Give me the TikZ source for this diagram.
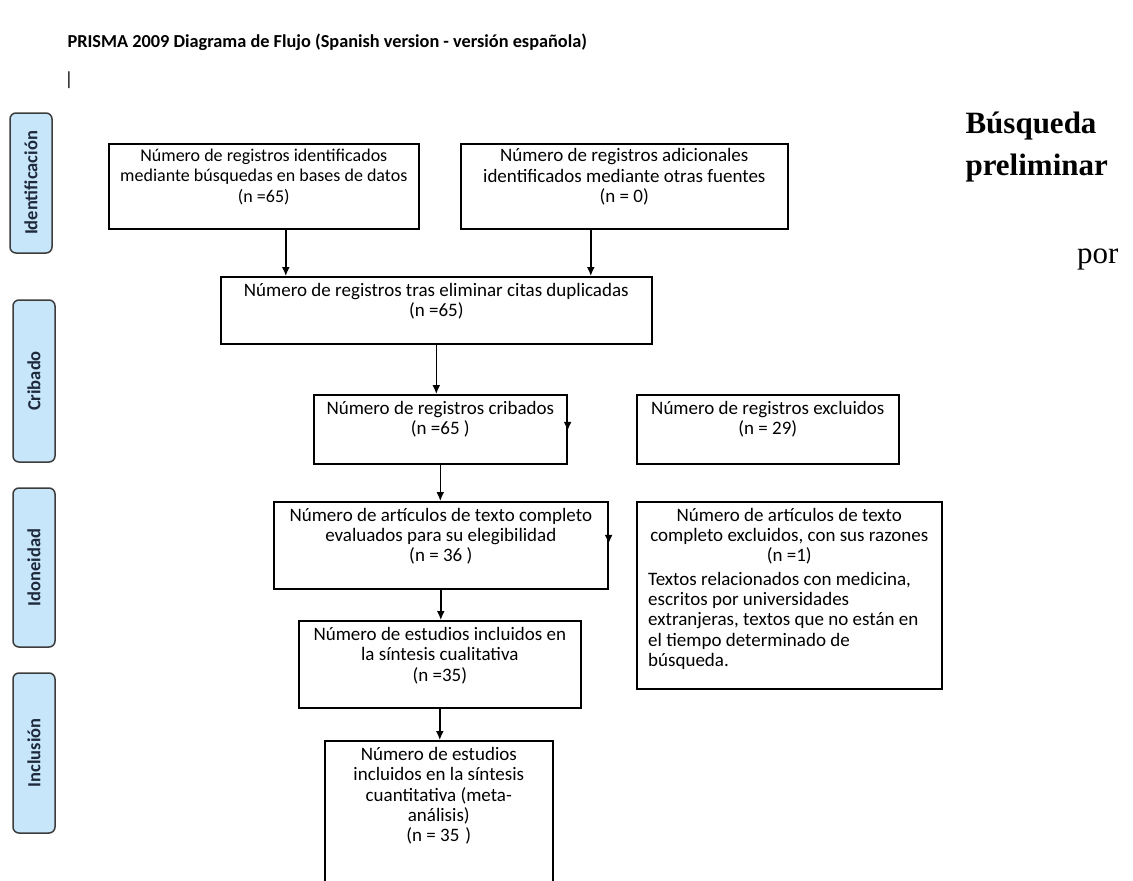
\documentclass[tikz,border=0pt]{standalone}
\usepackage{fontspec}
\setmainfont{Carlito}
\newfontfamily\serifface{Liberation Serif}
\usetikzlibrary{arrows.meta}
\definecolor{stagefill}{RGB}{200,230,250}
\definecolor{stageink}{RGB}{30,42,60}
\definecolor{stageline}{RGB}{60,60,60}

\begin{document}
\begin{tikzpicture}[x=1pt,y=-1pt,
  every node/.style={font=\fontsize{19}{20.3}\selectfont},
  box/.style={draw,line width=1.6pt,anchor=north west,inner sep=0pt},
  txt/.style={anchor=north,yshift=-7pt,align=center,inner sep=0pt},
  stage/.style={draw=stageline,fill=stagefill,line width=1.5pt,rounded corners=6pt,
    rotate=90,text=stageink,font=\fontsize{18.5}{20}\selectfont\bfseries,minimum height=42pt},
  arr/.style={-{Latex[length=9pt,width=8pt]},line width=1.5pt}]
\useasboundingbox (0,0) rectangle (1133,881);
\clip (0,0) rectangle (1133,881);
\node[anchor=west,font=\fontsize{18.3}{20}\selectfont\bfseries] (title) at (64,42)
  {PRISMA 2009 Diagrama de Flujo (Spanish version - versión española)};
\node[anchor=west] (cursor) at (61,80) {|};
\node[stage,minimum width=140pt] (ident) at (31,183) {Identificación};
\node[stage,minimum width=162pt] (crib) at (34,381) {Cribado};
\node[stage,minimum width=159pt] (idon) at (34,567.5) {Idoneidad};
\node[stage,minimum width=160pt] (incl) at (34,753) {Inclusión};
\node[box,minimum width=310pt,minimum height=85pt] (db) at (108,143) {};
\node[box,minimum width=327pt,minimum height=85pt] (ot) at (460,143) {};
\node[box,minimum width=431pt,minimum height=67pt] (dup) at (220,276) {};
\node[box,minimum width=253pt,minimum height=69pt] (cr) at (313,394) {};
\node[box,minimum width=262pt,minimum height=69pt] (exr) at (636,394) {};
\node[box,minimum width=334pt,minimum height=87pt] (ev) at (273,501) {};
\node[box,minimum width=305pt,minimum height=187pt] (exa) at (636,501) {};
\node[box,minimum width=282pt,minimum height=87pt] (cual) at (298,620) {};
\node[box,minimum width=228pt,minimum height=170pt] (meta) at (324,740) {};
\node[txt,yshift=1.5pt,font=\fontsize{18}{20.5}\selectfont] (dbt) at (db.north) {Número de registros identificados\\ mediante búsquedas en bases de datos\\ (n =65)};
\node[txt,yshift=1.5pt] (ott) at (ot.north) {Número de registros adicionales\\ identificados mediante otras fuentes\\ (n = 0)};
\node[txt] (dupt) at (dup.north) {Número de registros tras eliminar citas duplicadas\\ (n =65)};
\node[txt] (crt) at (cr.north) {Número de registros cribados\\ (n =65 )};
\node[txt] (exrt) at (exr.north) {Número de registros excluidos\\ (n = 29)};
\node[txt] (evt) at (ev.north) {Número de artículos de texto completo\\ evaluados para su elegibilidad\\ (n = 36 )};
\node[txt] (exat) at (exa.north) {Número de artículos de texto\\ completo excluidos, con sus razones\\ (n =1)};
\node[anchor=north west,align=left,inner sep=0pt] (exal) at ([xshift=12pt,yshift=-7pt]exat.south -| exa.west) {Textos relacionados con medicina,\\ escritos por universidades\\ extranjeras, textos que no están en\\ el tiempo determinado de\\ búsqueda.};
\node[txt] (cualt) at (cual.north) {Número de estudios incluidos en\\ la síntesis cualitativa\\ (n =35)};
\node[txt] (metat) at (meta.north) {Número de estudios\\ incluidos en la síntesis\\ cuantitativa (meta-\\ análisis)\\ (n = 35\hspace{6pt})};
\draw[arr] ([xshift=22pt]db.south) -- ([xshift=22pt]db.south |- dup.north);
\draw[arr] ([xshift=-33.5pt]ot.south) -- ([xshift=-33.5pt]ot.south |- dup.north);
\draw[arr] (dup.south) -- (dup.south |- cr.north);
\draw[arr] (cr.south) -- (cr.south |- ev.north);
\draw[arr] (ev.south) -- (ev.south |- cual.north);
\draw[arr] (cual.south) -- (cual.south |- meta.north);
\draw[arr] ([yshift=9pt]cr.east) -- ([yshift=-1.5pt]cr.east);
\draw[arr] ([yshift=12pt]ev.east) -- ([yshift=1.5pt]ev.east);
\node[anchor=base west,font=\serifface\bfseries\fontsize{31}{36}\selectfont] (busq) at (962,133) {Búsqueda};
\node[anchor=base west,font=\serifface\bfseries\fontsize{31}{36}\selectfont] (prel) at (962,175) {preliminar};
\node[anchor=base east,font=\serifface\fontsize{31}{36}\selectfont] (por) at (1122,263) {por};
\end{tikzpicture}
\end{document}
